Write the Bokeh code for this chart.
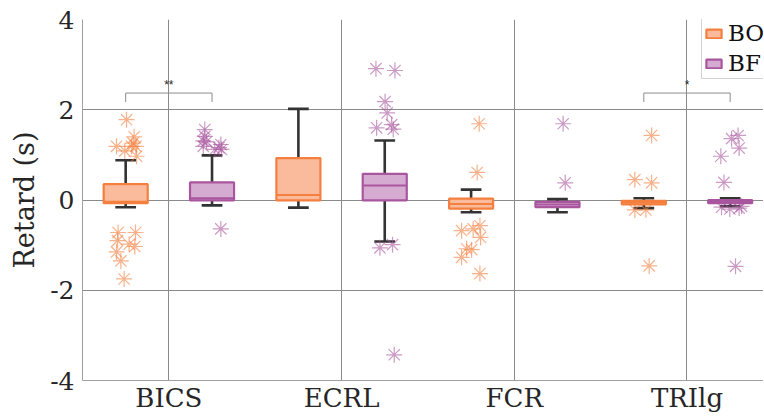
from bokeh.plotting import figure
from bokeh.models import Range1d, FixedTicker, Legend, LegendItem
from bokeh.embed import file_html
from bokeh.resources import INLINE

# ---------------- data ----------------
categories = ["BICS", "ECRL", "FCR", "TRIlg"]
groups = ["BO", "BF"]
y_ticks = [-4, -2, 0, 2, 4]
y_tick_labels = ["-4", "-2", "0", "2", "4"]

bo_q1 = [-0.07, -0.01, -0.19, -0.10]
bo_med = [-0.04, 0.11, -0.09, -0.06]
bo_q3 = [0.35, 0.93, 0.03, -0.02]
bo_lo = [-0.16, -0.17, -0.27, -0.18]
bo_hi = [0.88, 2.02, 0.23, 0.04]

bf_q1 = [-0.01, -0.01, -0.16, -0.07]
bf_med = [0.04, 0.32, -0.10, -0.04]
bf_q3 = [0.39, 0.58, -0.04, 0.00]
bf_lo = [-0.12, -0.92, -0.27, -0.14]
bf_hi = [0.99, 1.32, 0.02, 0.04]

# individual points (category index, value) and read-off horizontal jitter
bo_pts_cat = [0] * 16 + [2] * 10 + [3] * 6
bo_pts_val = [1.78, 1.19, 1.09, 1.40, 1.26, 1.19, 1.19, 0.97, -0.72, -0.72, -0.90, -0.98, -1.03, -1.15, -1.35, -1.75,
              1.69, 0.61, -0.68, -0.64, -0.57, -0.83, -1.08, -1.10, -1.27, -1.63,
              1.43, 0.45, 0.38, -0.22, -0.22, -1.46]
bo_pts_jit = [-0.245, -0.303, -0.255, -0.201, -0.207, -0.191, -0.216, -0.187, -0.294, -0.193, -0.297, -0.230, -0.197, -0.303, -0.278, -0.259,
              -0.203, -0.215, -0.305, -0.238, -0.199, -0.195, -0.276, -0.247, -0.305, -0.199,
              -0.205, -0.302, -0.205, -0.302, -0.238, -0.219]

bf_pts_cat = [0] * 10 + [1] * 10 + [2] * 2 + [3] * 10
bf_pts_val = [1.56, 1.31, 1.29, 1.19, 1.12, 1.23, 1.12, 1.16, 1.41, -0.64,
              2.18, 1.93, 1.60, 1.67, 1.57, -1.06, -0.99, -3.43, 2.91, 2.87,
              1.69, 0.38,
              1.43, 1.36, 1.15, 0.97, 0.39, -0.16, -0.20, -0.18, -0.14, -1.47]
bf_pts_jit = [0.208, 0.199, 0.218, 0.199, 0.266, 0.301, 0.305, 0.290, 0.208, 0.301,
              0.252, 0.264, 0.203, 0.290, 0.299, 0.222, 0.295, 0.305, 0.199, 0.309,
              0.283, 0.295,
              0.296, 0.258, 0.302, 0.196, 0.214, 0.200, 0.248, 0.302, 0.316, 0.281]

sig_cats = [0, 3]
sig_labels = ["**", "*"]
sig_y = 2.37

# ---------------- styling ----------------
FONT = "DejaVu Serif"
TXT = "#262626"
BO_FILL, BO_LINE, BO_PT = "#F9BB9B", "#F47F3E", "#F47F3E"
BF_FILL, BF_LINE, BF_PT = "#D6ABD1", "#A9569F", "#A9569F"
WHISK = "#333333"
GRID = "#8a8a8a"
OFF = 0.25
BOXW = 0.255
CAPW = 0.12

p = figure(width=763, height=417, x_range=Range1d(0.5, 4.443), y_range=Range1d(-4, 4),
           output_backend="svg", toolbar_location=None,
           min_border_left=82, min_border_right=0, min_border_top=19, min_border_bottom=37)
p.outline_line_color = None
p.background_fill_color = "white"

p.xgrid.ticker = FixedTicker(ticks=[1, 2, 3, 4])
p.ygrid.ticker = FixedTicker(ticks=y_ticks)
for g in (p.xgrid[0], p.ygrid[0]):
    g.grid_line_color = GRID
    g.grid_line_width = 1

p.xaxis.ticker = FixedTicker(ticks=[1, 2, 3, 4])
p.xaxis.major_label_overrides = {i + 1: c for i, c in enumerate(categories)}
p.yaxis.ticker = FixedTicker(ticks=y_ticks)
p.yaxis.major_label_overrides = {t: s for t, s in zip(y_ticks, y_tick_labels)}
p.yaxis.axis_label = "Retard (s)"
for ax in (p.xaxis[0], p.yaxis[0]):
    ax.axis_line_color = "#a0a0a0"
    ax.major_tick_line_color = None
    ax.minor_tick_line_color = None
    ax.major_tick_out = 0
    ax.major_tick_in = 0
    ax.minor_tick_out = 0
    ax.minor_tick_in = 0
    ax.major_label_text_font = FONT
    ax.major_label_text_color = TXT
p.xaxis.major_label_text_font_size = "26px"
p.yaxis.major_label_text_font_size = "25px"
p.xaxis.major_label_standoff = 2
p.yaxis.major_label_standoff = 8
p.yaxis.axis_label_text_font = FONT
p.yaxis.axis_label_text_font_size = "27px"
p.yaxis.axis_label_text_font_style = "normal"
p.yaxis.axis_label_text_color = TXT
p.yaxis.axis_label_standoff = 7


def draw_group(q1, med, q3, lo, hi, off, fill, line):
    xc = [i + 1 + off for i in range(len(q1))]
    # whiskers
    p.segment(x0=xc, y0=q3, x1=xc, y1=hi, line_color=WHISK, line_width=2.6)
    p.segment(x0=xc, y0=q1, x1=xc, y1=lo, line_color=WHISK, line_width=2.6)
    p.segment(x0=[x - CAPW / 2 for x in xc], y0=hi, x1=[x + CAPW / 2 for x in xc], y1=hi,
              line_color=WHISK, line_width=2.6)
    p.segment(x0=[x - CAPW / 2 for x in xc], y0=lo, x1=[x + CAPW / 2 for x in xc], y1=lo,
              line_color=WHISK, line_width=2.6)
    r = p.quad(left=[x - BOXW / 2 for x in xc], right=[x + BOXW / 2 for x in xc],
               bottom=q1, top=q3, fill_color=fill, line_color=line, line_width=2.2)
    p.segment(x0=[x - BOXW / 2 for x in xc], y0=med, x1=[x + BOXW / 2 for x in xc], y1=med,
              line_color=line, line_width=2)
    return r


r_bo = draw_group(bo_q1, bo_med, bo_q3, bo_lo, bo_hi, -OFF, BO_FILL, BO_LINE)
r_bf = draw_group(bf_q1, bf_med, bf_q3, bf_lo, bf_hi, OFF, BF_FILL, BF_LINE)

p.scatter(x=[c + 1 + j for c, j in zip(bo_pts_cat, bo_pts_jit)], y=bo_pts_val, marker="asterisk",
          size=16, line_color=BO_PT, line_alpha=0.6, line_width=1.2)
p.scatter(x=[c + 1 + j for c, j in zip(bf_pts_cat, bf_pts_jit)], y=bf_pts_val, marker="asterisk",
          size=16, line_color=BF_PT, line_alpha=0.6, line_width=1.2)

# significance brackets
bx0 = [c + 1 - OFF for c in sig_cats]
bx1 = [c + 1 + OFF for c in sig_cats]
p.segment(x0=bx0, y0=[sig_y] * 2, x1=bx1, y1=[sig_y] * 2, line_color="#8c8c8c", line_width=1)
p.segment(x0=bx0, y0=[sig_y] * 2, x1=bx0, y1=[sig_y - 0.2] * 2, line_color="#8c8c8c", line_width=1)
p.segment(x0=bx1, y0=[sig_y] * 2, x1=bx1, y1=[sig_y - 0.2] * 2, line_color="#8c8c8c", line_width=1)
p.text(x=[c + 1 for c in sig_cats], y=[sig_y + 0.02] * 2, text=sig_labels, text_align="center",
       text_baseline="bottom", text_font_size="12px", text_color="#222222")

legend = Legend(items=[LegendItem(label=groups[0], renderers=[r_bo]),
                       LegendItem(label=groups[1], renderers=[r_bf])],
                location=(619, 301))
legend.label_text_font = FONT
legend.label_text_font_size = "23px"
legend.label_text_color = "#111111"
legend.glyph_width = 19
legend.glyph_height = 11
legend.label_height = 26
legend.label_standoff = 5
legend.spacing = 4
legend.padding = 2
legend.margin = 0
legend.border_line_color = "#a8a8a8"
legend.border_line_width = 1
legend.background_fill_alpha = 1
p.add_layout(legend)

open("out.html", "w").write(file_html(p, INLINE))
